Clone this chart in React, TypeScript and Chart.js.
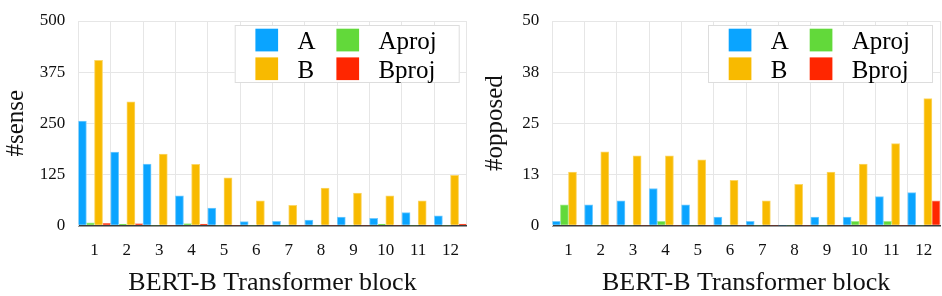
import React, { useEffect, useRef } from "react";
import { Chart, registerables } from "chart.js";

Chart.register(...registerables);

const FONT = '"Liberation Serif", "Times New Roman", Times, serif';

const blocks = ["1", "2", "3", "4", "5", "6", "7", "8", "9", "10", "11", "12"];

const senseA = [255, 179, 150, 72, 42, 9, 10, 13, 20, 17, 31, 23];
const senseAproj = [6, 3, 0, 4, 0, 0, 0, 0, 0, 3, 0, 0];
const senseB = [404, 302, 174, 149, 116, 60, 49, 91, 79, 72, 60, 122];
const senseBproj = [5, 4, 0, 3, 0, 0, 0, 0, 0, 0, 0, 3];

const opposedA = [1, 5, 6, 9, 5, 2, 1, 0, 2, 2, 7, 8];
const opposedAproj = [5, 0, 0, 1, 0, 0, 0, 0, 0, 1, 1, 0];
const opposedB = [13, 18, 17, 17, 16, 11, 6, 10, 13, 15, 20, 31];
const opposedBproj = [0, 0, 0, 0, 0, 0, 0, 0, 0, 0, 0, 6];

const senseTicks = { max: 500, step: 125 };
const opposedTicks = { max: 50, step: 12.5 };

const COLORS = {
  A: { fill: "#0aa4ff", border: "#72cbff" },
  Aproj: { fill: "#62d93a", border: "#a3ea8a" },
  B: { fill: "#f8ba00", border: "#fbd666" },
  Bproj: { fill: "#ff2600", border: "#ff8a73" },
};

const boxLegend = {
  id: "boxLegend",
  afterDraw(chart: any) {
    const { ctx, chartArea } = chart;
    const w = 225;
    const h = 58;
    const x0 = chartArea.right - 7 - w;
    const y0 = chartArea.top + 4;
    ctx.save();
    ctx.fillStyle = "#ffffff";
    ctx.fillRect(x0, y0, w, h);
    ctx.strokeStyle = "#dddddd";
    ctx.lineWidth = 1;
    ctx.strokeRect(x0 + 0.5, y0 + 0.5, w - 1, h - 1);
    chart.data.datasets.forEach((ds: any, i: number) => {
      const col = i % 2;
      const row = Math.floor(i / 2);
      const bx = x0 + 20.7 + col * 81;
      const by = y0 + 3.7 + row * 28.7;
      ctx.fillStyle = ds.backgroundColor;
      ctx.fillRect(bx, by, 22.7, 22.7);
      ctx.fillStyle = "#000000";
      ctx.font = `25px ${FONT}`;
      ctx.textBaseline = "alphabetic";
      ctx.textAlign = "left";
      ctx.fillText(ds.label, bx + 42, by + 20.5);
    });
    ctx.restore();
  },
};

function makeDataset(label: string, data: number[], key: keyof typeof COLORS) {
  return {
    label,
    data,
    backgroundColor: COLORS[key].fill,
    borderColor: COLORS[key].border,
    borderWidth: (c: any) => (c.raw ? 1 : 0),
    categoryPercentage: 1,
    barPercentage: 1,
  };
}

function BarPanel(props: {
  a: number[];
  aproj: number[];
  b: number[];
  bproj: number[];
  yTitle: string;
  ticks: { max: number; step: number };
  yWidth: number;
  titlePad: number;
  rightPad: number;
}) {
  const ref = useRef<HTMLCanvasElement>(null);
  useEffect(() => {
    if (!ref.current) return;
    const chart = new Chart(ref.current, {
      type: "bar",
      data: {
        labels: blocks,
        datasets: [
          makeDataset("A", props.a, "A"),
          makeDataset("Aproj", props.aproj, "Aproj"),
          makeDataset("B", props.b, "B"),
          makeDataset("Bproj", props.bproj, "Bproj"),
        ],
      },
      options: {
        animation: false,
        responsive: false,
        devicePixelRatio: 1,
        layout: { padding: { left: 0, right: props.rightPad, top: 21, bottom: 0 } },
        plugins: { legend: { display: false }, tooltip: { enabled: false } },
        scales: {
          x: {
            offset: true,
            grid: { color: "#e6e6e6", drawTicks: false, offset: true },
            border: { color: "#3a3a3a", width: 1.5 },
            ticks: { padding: 15, color: "#111", font: { family: FONT, size: 17 } },
            title: {
              display: true,
              text: "BERT-B Transformer block",
              color: "#111",
              font: { family: FONT, size: 26, lineHeight: 1 },
              padding: { top: 0, bottom: 0 },
            },
            afterFit: (s: any) => {
              s.height = 70.7;
              s.paddingLeft = 0;
              s.paddingRight = 0;
            },
          },
          y: {
            min: 0,
            max: props.ticks.max,
            grid: { color: "#e6e6e6", drawTicks: false },
            border: { color: "#e6e6e6" },
            ticks: {
              stepSize: props.ticks.step,
              padding: 13,
              color: "#111",
              font: { family: FONT, size: 17 },
              callback: (v: any) => String(Math.round(Number(v))),
            },
            title: {
              display: true,
              text: props.yTitle,
              color: "#111",
              font: { family: FONT, size: 25, lineHeight: 1 },
              padding: { top: props.titlePad, bottom: 0 },
            },
            afterFit: (s: any) => {
              s.width = props.yWidth;
              s.paddingTop = 0;
              s.paddingBottom = 0;
            },
          },
        },
      },
      plugins: [boxLegend],
    });
    return () => chart.destroy();
  }, []);
  return <canvas ref={ref} width={471} height={296} style={{ display: "block" }} />;
}

export default function App() {
  return (
    <div
      style={{
        position: "absolute",
        left: 0,
        top: 0,
        width: 942,
        height: 296,
        display: "flex",
        background: "#fff",
      }}
    >
      <BarPanel
        a={senseA}
        aproj={senseAproj}
        b={senseB}
        bproj={senseBproj}
        yTitle="#sense"
        ticks={senseTicks}
        yWidth={78.3}
        titlePad={4}
        rightPad={4.3}
      />
      <BarPanel
        a={opposedA}
        aproj={opposedAproj}
        b={opposedB}
        bproj={opposedBproj}
        yTitle="#opposed"
        ticks={opposedTicks}
        yWidth={81.3}
        titlePad={12}
        rightPad={2}
      />
    </div>
  );
}
